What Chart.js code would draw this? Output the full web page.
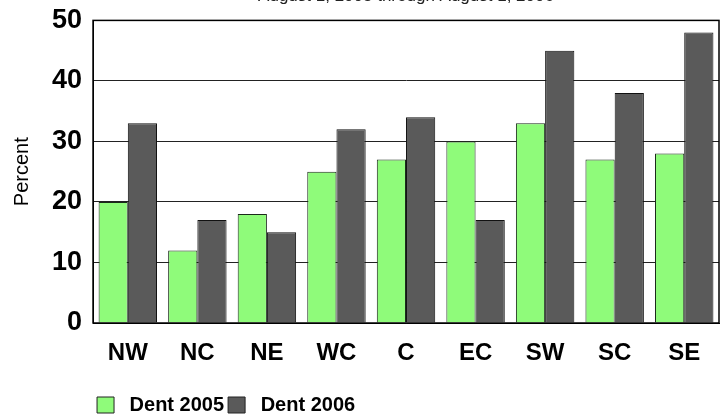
<!DOCTYPE html>
<html>
<head>
<meta charset="utf-8">
<script src="https://cdn.jsdelivr.net/npm/chart.js@4/dist/chart.umd.min.js"></script>
<style>
  html, body { margin: 0; padding: 0; background: #fff; }
  #wrap { position: relative; width: 723px; height: 417px; overflow: hidden; }
  #chart { position: absolute; left: 0; top: -14px; }
</style>
</head>
<body>
<div id="wrap"><canvas id="chart" width="723" height="439"></canvas></div>
<script>
const regions = ["NW", "NC", "NE", "WC", "C", "EC", "SW", "SC", "SE"];
const dent2005 = [20, 12, 18, 25, 27, 30, 33, 27, 28];
const dent2006 = [33, 17, 15, 32, 34, 17, 45, 38, 48];
const seriesNames = ["Dent 2005", "Dent 2006"];
const seriesColors = ["#8ffb7a", "#5a5a5a"];
const titleText = "August 1, 2005 through August 1, 2006";

const font = "Arial, 'Liberation Sans', Helvetica, sans-serif";

// black frame round the plot area
const frame = {
  id: "frame",
  afterDatasetsDraw(chart) {
    const { ctx, chartArea: a } = chart;
    ctx.save();
    ctx.strokeStyle = "#000";
    ctx.lineWidth = 1.5;
    ctx.strokeRect(a.left, a.top, a.right - a.left, a.bottom - a.top);
    ctx.restore();
  },
};

new Chart(document.getElementById("chart").getContext("2d"), {
  type: "bar",
  data: {
    labels: regions,
    datasets: [
      { label: seriesNames[0], data: dent2005, backgroundColor: seriesColors[0], borderColor: "#1a2a1a", borderWidth: 1 },
      { label: seriesNames[1], data: dent2006, backgroundColor: seriesColors[1], borderColor: "#111", borderWidth: 1 },
    ],
  },
  plugins: [frame],
  options: {
    responsive: false,
    animation: false,
    layout: { padding: { left: 6, right: 4, top: 0, bottom: 0 } },
    datasets: { bar: { categoryPercentage: 0.84, barPercentage: 1 } },
    plugins: {
      title: {
        display: true,
        text: titleText,
        fullSize: false,
        color: "#222",
        font: { family: font, size: 17, weight: "normal" },
        padding: { top: 0, bottom: 14 },
      },
      legend: {
        position: "bottom",
        align: "start",
        fullSize: false,
        labels: {
          color: "#000",
          boxWidth: 17,
          boxHeight: 16,
          padding: 4,
          font: { family: font, size: 20, weight: "bold" },
          generateLabels(chart) {
            return Chart.defaults.plugins.legend.labels.generateLabels(chart).map((l) => ({ ...l, text: " " + l.text, strokeStyle: "#222", lineWidth: 1 }));
          },
        },
      },
      tooltip: { enabled: false },
    },
    scales: {
      x: {
        grid: { display: false, drawTicks: false },
        border: { color: "#000" },
        ticks: { color: "#000", padding: 16, font: { family: font, size: 24, weight: "bold" } },
        afterFit(scale) { scale.height = 68; },
      },
      y: {
        min: 0,
        max: 50,
        ticks: { stepSize: 10, color: "#000", padding: 11, font: { family: font, size: 27, weight: "bold" } },
        grid: { color: "#222", lineWidth: 1, drawTicks: false },
        border: { color: "#000" },
        title: { display: true, text: "Percent", color: "#000", padding: { top: 4, bottom: 7 }, font: { family: font, size: 20, weight: "normal" } },
      },
    },
  },
});
</script>
</body>
</html>
